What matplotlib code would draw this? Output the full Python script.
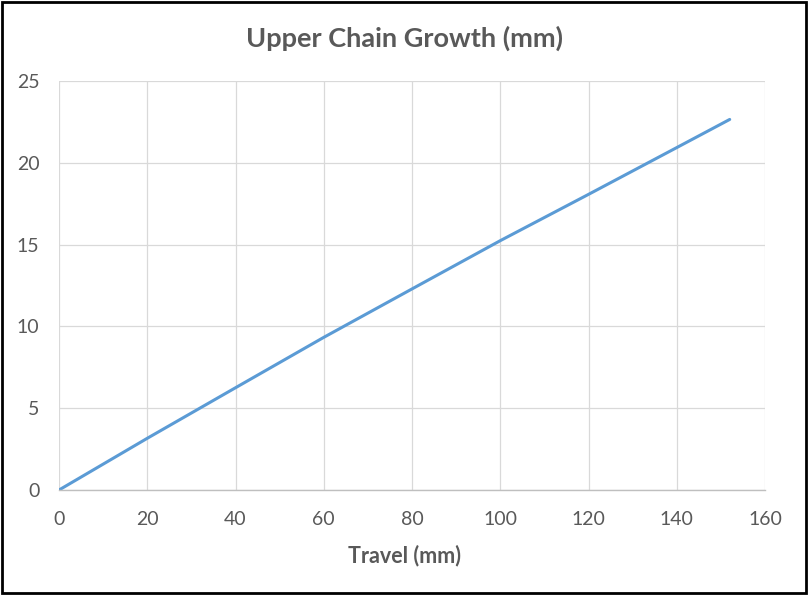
import matplotlib.pyplot as plt
from matplotlib.patches import Rectangle

travel = [0, 20, 40, 60, 80, 100, 120, 140, 152]
growth = [0, 3.16, 6.25, 9.33, 12.29, 15.24, 18.07, 20.93, 22.65]

xticks = [0, 20, 40, 60, 80, 100, 120, 140, 160]
yticks = [0, 5, 10, 15, 20, 25]

grey = "#595959"
plt.rcParams['font.family'] = ['Lato', 'DejaVu Sans']

fig = plt.figure(figsize=(8.08, 5.95), dpi=100)
ax = fig.add_axes([59/808, 1 - 490/595, 706/808, 409/595])

ax.plot(travel, growth, color="#5b9bd5", linewidth=2.2, solid_capstyle="round")

ax.set_xlim(0, 160)
ax.set_ylim(0, 25)
ax.set_xticks(xticks)
ax.set_yticks(yticks)
ax.grid(True, color="#d9d9d9", linewidth=0.9)
ax.set_axisbelow(True)
for s in ["top", "right", "left"]:
    ax.spines[s].set_visible(False)
ax.spines["bottom"].set_color("#bfbfbf")
ax.spines["bottom"].set_linewidth(1)
ax.tick_params(length=0, labelsize=14, colors=grey)
ax.tick_params(axis="x", pad=15)
ax.tick_params(axis="y", pad=14)

fig.text(0.5, 1 - 556/595, "Travel (mm)", ha="center", va="center",
         fontsize=15.5, fontweight="bold", color=grey)
fig.text(0.5, 1 - 38/595, "Upper Chain Growth (mm)", ha="center", va="center",
         fontsize=19.5, fontweight="bold", color=grey)

# black frame around the whole picture
fig.patches.append(Rectangle((0.002, 0.003), 0.996, 0.994, transform=fig.transFigure,
                             fill=False, edgecolor="black", linewidth=2))

fig.savefig("out.png", dpi=100)
